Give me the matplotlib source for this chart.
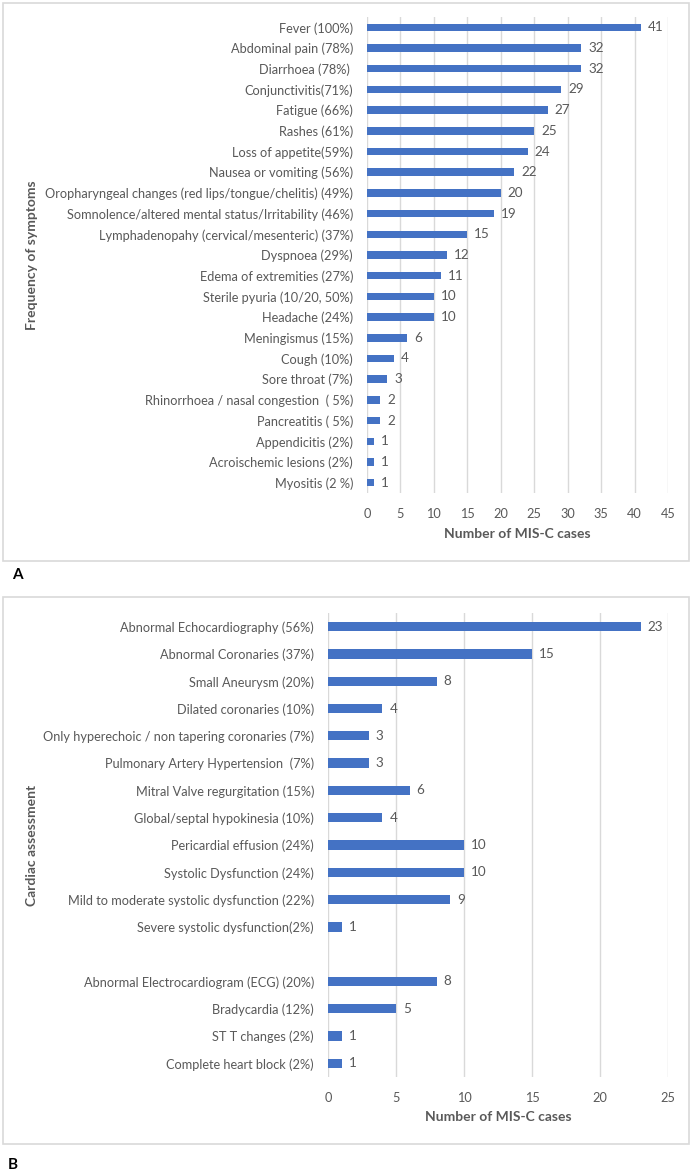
import matplotlib.pyplot as plt
from matplotlib.patches import Rectangle

plt.rcParams['font.family'] = ['Lato', 'DejaVu Sans']

# Panel A: symptoms
symptoms = ['Fever (100%)', 'Abdominal pain (78%)', 'Diarrhoea (78%) ', 'Conjunctivitis(71%)',
            'Fatigue (66%)', 'Rashes (61%)', 'Loss of appetite(59%)', 'Nausea or vomiting (56%)',
            'Oropharyngeal changes (red lips/tongue/chelitis) (49%)',
            'Somnolence/altered mental status/Irritability (46%)',
            'Lymphadenopahy (cervical/mesenteric) (37%)', 'Dyspnoea (29%)',
            'Edema of extremities (27%)', 'Sterile pyuria (10/20, 50%)', 'Headache (24%)',
            'Meningismus (15%)', 'Cough (10%)', 'Sore throat (7%)',
            'Rhinorrhoea / nasal congestion  ( 5%)', 'Pancreatitis ( 5%)', 'Appendicitis (2%)',
            'Acroischemic lesions (2%)', 'Myositis (2 %)']
symptom_counts = [41, 32, 32, 29, 27, 25, 24, 22, 20, 19, 15, 12, 11, 10, 10, 6, 4, 3, 2, 2, 1, 1, 1]
ticks_a = [0, 5, 10, 15, 20, 25, 30, 35, 40, 45]

# Panel B: cardiac assessment ('' = empty row in the chart)
cardiac = ['Abnormal Echocardiography (56%)', 'Abnormal Coronaries (37%)', 'Small Aneurysm (20%)',
           'Dilated coronaries (10%)', 'Only hyperechoic / non tapering coronaries (7%)',
           'Pulmonary Artery Hypertension  (7%)', 'Mitral Valve regurgitation (15%)',
           'Global/septal hypokinesia (10%)', 'Pericardial effusion (24%)',
           'Systolic Dysfunction (24%)', 'Mild to moderate systolic dysfunction (22%)',
           'Severe systolic dysfunction(2%)', '',
           'Abnormal Electrocardiogram (ECG) (20%)', 'Bradycardia (12%)', 'ST T changes (2%)',
           'Complete heart block (2%)']
cardiac_counts = [23, 15, 8, 4, 3, 3, 6, 4, 10, 10, 9, 1, None, 8, 5, 1, 1]
ticks_b = [0, 5, 10, 15, 20, 25]

BLUE = '#4472C4'
GREY = '#595959'
GRID = '#D9D9D9'
W, H = 692, 1173
FS = 9.2

fig = plt.figure(figsize=(W / 100, H / 100), dpi=100)


def px_axes(left, top, right, bottom):
    return fig.add_axes([left / W, 1 - bottom / H, (right - left) / W, (bottom - top) / H])


def draw_panel(ax, labels, values, ticks, bar_frac):
    n = len(labels)
    ys = list(range(n))
    for y, v in zip(ys, values):
        if v is None:
            continue
        ax.barh(y, v, height=bar_frac, color=BLUE, zorder=3)
        ax.annotate(str(v), (v, y), xytext=(5, 0), textcoords='offset points',
                    va='center', ha='left', fontsize=FS + 0.5, color=GREY)
    ax.set_ylim(n - 0.5, -0.5)
    ax.set_xlim(ticks[0], ticks[-1])
    ax.set_yticks(ys)
    ax.set_yticklabels(labels)
    ax.set_xticks(ticks)
    for t in ticks:
        ax.axvline(t, color=GRID, lw=1, zorder=1)
    for s in ax.spines.values():
        s.set_visible(False)
    ax.tick_params(axis='y', length=0, pad=10, labelsize=FS, labelcolor=GREY)
    ax.tick_params(axis='x', length=0, pad=11, labelsize=FS, labelcolor=GREY)


# frames around the panels
for top, bottom in [(3, 561), (597, 1144)]:
    fig.patches.append(Rectangle((3 / W, 1 - bottom / H), (689 - 3) / W, (bottom - top) / H,
                                 transform=fig.transFigure, fill=False,
                                 edgecolor=GRID, lw=1.2))

ax_a = px_axes(367, 17, 668, 493)
draw_panel(ax_a, symptoms, symptom_counts, ticks_a, 0.36)
ax_b = px_axes(328, 613, 668, 1077)
draw_panel(ax_b, cardiac, cardiac_counts, ticks_b, 0.34)

fig.text(517 / W, 1 - 534 / H, 'Number of MIS-C cases', ha='center', va='center',
         fontsize=10, fontweight='bold', color=GREY)
fig.text(498 / W, 1 - 1117 / H, 'Number of MIS-C cases', ha='center', va='center',
         fontsize=10, fontweight='bold', color=GREY)
fig.text(32 / W, 1 - 255 / H, 'Frequency of symptoms', ha='center', va='center',
         rotation=90, fontsize=10, fontweight='bold', color=GREY)
fig.text(32 / W, 1 - 845 / H, 'Cardiac assessment', ha='center', va='center',
         rotation=90, fontsize=10, fontweight='bold', color=GREY)

fig.text(17 / W, 1 - 575 / H, 'A', ha='center', va='center', fontsize=11, fontweight='bold')
fig.text(13 / W, 1 - 1165 / H, 'B', ha='center', va='center', fontsize=11, fontweight='bold')

fig.savefig('out.png', dpi=100)
